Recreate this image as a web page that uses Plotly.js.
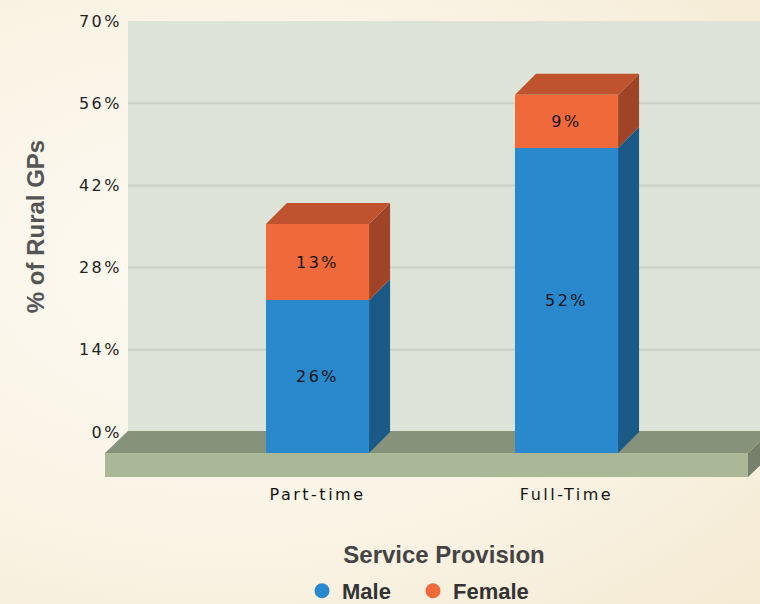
<!DOCTYPE html>
<html>
<head>
<meta charset="utf-8">
<script src="https://cdn.plot.ly/plotly-3.0.1.min.js"></script>
<style>
  html, body { margin: 0; padding: 0; }
  body {
    width: 760px; height: 604px; overflow: hidden;
    background: radial-gradient(ellipse at 30% 45%, #fdfaf2 0%, #faf4e6 55%, #f5ead3 100%);
  }
  #chart { width: 760px; height: 604px; }
  .xtick text, .x2tick text, .ytick text, .bartext { letter-spacing: 2.5px; }
  .legend { translate: 0px 8px; }
  .legend .scrollbox, .legend g { clip-path: none !important; }
</style>
</head>
<body>
<div id="chart"></div>
<script>
// ---- data ----
const categories = ['Part-time', 'Full-Time'];
const maleValues = [26, 52];
const femaleValues = [13, 9];
const seriesNames = ['Male', 'Female'];
const yTickValues = [0, 14, 28, 42, 56, 70];
const yTickLabels = ['0%', '14%', '28%', '42%', '56%', '70%'];

// ---- styling / geometry ----
const W = 760, H = 604;
const M = { l: 128, r: 0, t: 21, b: 127 };
const plotW = W - M.l - M.r, plotH = H - M.t - M.b;
const px2paperX = px => (px - M.l) / plotW;
const px2paperY = py => (H - M.b - py) / plotH;

const colors = {
  male: '#2a88cc', maleSide: '#1b5a87',
  female: '#f0693a', femaleSide: '#9f4427', femaleTop: '#c0532f',
  wall: '#dde3d6', grid: '#cbd0c4',
  floorTop: '#87927a', floorFront: '#aab898', floorSide: '#76806a'
};

const DEPTH = 21;           // 3D depth in px
const yMax = 70;
const xRange = [-0.761, 1.777];
const barWidth = 0.414;
const backZero = 432, backTop = 21;   // back wall: y px of 0% and 70%
const frontZero = 453;                  // front plane 0%
const frontTop = frontZero - (backZero - backTop);

const xs = categories.map((c, i) => i);
const pxPerX = plotW / (xRange[1] - xRange[0]);
const pxPerY = (backZero - backTop) / yMax;
const dx = DEPTH / pxPerX, dy = DEPTH / pxPerY;

const textFont = { family: 'DejaVu Sans', size: 16, color: '#151515' };

const traces = [
  {
    type: 'bar', x: xs, y: maleValues, name: seriesNames[0],
    xaxis: 'x2', yaxis: 'y2', width: barWidth,
    marker: { color: colors.male, line: { width: 0 } },
    text: maleValues.map(v => v + '%'), textposition: 'inside',
    insidetextanchor: 'middle', textangle: 0, textfont: textFont,
    constraintext: 'none', showlegend: false, hoverinfo: 'skip'
  },
  {
    type: 'bar', x: xs, y: femaleValues, name: seriesNames[1],
    xaxis: 'x2', yaxis: 'y2', width: barWidth,
    marker: { color: colors.female, line: { width: 0 } },
    text: femaleValues.map(v => v + '%'), textposition: 'inside',
    insidetextanchor: 'middle', textangle: 0, textfont: textFont,
    constraintext: 'none', showlegend: false, hoverinfo: 'skip'
  },
  // legend entries (circle markers)
  { type: 'scatter', mode: 'markers', x: [null], y: [null], name: seriesNames[0],
    xaxis: 'x', yaxis: 'y', marker: { color: colors.male, size: 15 } },
  { type: 'scatter', mode: 'markers', x: [null], y: [null], name: seriesNames[1],
    xaxis: 'x', yaxis: 'y', marker: { color: colors.female, size: 15 } }
];

const shapes = [];
// back wall
shapes.push({ type: 'rect', xref: 'paper', yref: 'paper', layer: 'below',
  x0: px2paperX(128), x1: px2paperX(775), y0: px2paperY(backZero), y1: px2paperY(backTop),
  fillcolor: colors.wall, line: { width: 0 } });
// gridlines on back wall
yTickValues.filter(v => v > 0 && v < yMax).forEach(v => {
  shapes.push({ type: 'line', xref: 'paper', yref: 'y', layer: 'below',
    x0: 0, x1: px2paperX(775), y0: v, y1: v, line: { color: colors.grid, width: 2 } });
});
// floor
const fl = 105, fr = 748, fTop = 431, fFront = 453, fBot = 477;
const pth = pts => 'M' + pts.map(p => px2paperX(p[0]) + ',' + px2paperY(p[1])).join(' L') + ' Z';
shapes.push({ type: 'path', xref: 'paper', yref: 'paper', layer: 'below',
  path: pth([[fl, fFront], [fl + DEPTH + 2, fTop], [fr + DEPTH + 2, fTop], [fr, fFront]]),
  fillcolor: colors.floorTop, line: { width: 0 } });
shapes.push({ type: 'path', xref: 'paper', yref: 'paper', layer: 'below',
  path: pth([[fl, fFront], [fr, fFront], [fr, fBot], [fl, fBot]]),
  fillcolor: colors.floorFront, line: { width: 0 } });
shapes.push({ type: 'path', xref: 'paper', yref: 'paper', layer: 'below',
  path: pth([[fr, fFront], [fr + DEPTH + 2, fTop], [fr + DEPTH + 2, fTop + 24], [fr, fBot]]),
  fillcolor: colors.floorSide, line: { width: 0 } });

// 3D faces of bars (through x2 / y2 scales)
const poly = pts => 'M' + pts.map(p => p[0] + ',' + p[1]).join(' L') + ' Z';
xs.forEach((x, i) => {
  const x0 = x - barWidth / 2, x1 = x + barWidth / 2;
  const m = maleValues[i], t = maleValues[i] + femaleValues[i];
  shapes.push({ type: 'path', xref: 'x2', yref: 'y2', layer: 'above',
    path: poly([[x1, 0], [x1 + dx, dy], [x1 + dx, m + dy], [x1, m]]),
    fillcolor: colors.maleSide, line: { width: 0 } });
  shapes.push({ type: 'path', xref: 'x2', yref: 'y2', layer: 'above',
    path: poly([[x1, m], [x1 + dx, m + dy], [x1 + dx, t + dy], [x1, t]]),
    fillcolor: colors.femaleSide, line: { width: 0 } });
  shapes.push({ type: 'path', xref: 'x2', yref: 'y2', layer: 'above',
    path: poly([[x0, t], [x0 + dx, t + dy], [x1 + dx, t + dy], [x1, t]]),
    fillcolor: colors.femaleTop, line: { width: 0 } });
});

const layout = {
  width: W, height: H,
  margin: M,
  paper_bgcolor: 'rgba(0,0,0,0)', plot_bgcolor: 'rgba(0,0,0,0)',
  barmode: 'stack',
  showlegend: true,
  legend: { orientation: 'h', traceorder: 'normal',
    x: px2paperX(302), xanchor: 'left', y: px2paperY(604), yanchor: 'bottom',
    entrywidth: 66, entrywidthmode: 'pixels',
    font: { family: 'Liberation Sans', size: 22, weight: 'bold', color: '#333' },
    bgcolor: 'rgba(0,0,0,0)', itemclick: false, itemdoubleclick: false },
  xaxis: { domain: [0, 1], range: xRange, visible: false, fixedrange: true },
  yaxis: {
    domain: [px2paperY(backZero), px2paperY(backTop)], range: [0, yMax],
    tickvals: yTickValues, ticktext: yTickLabels,
    showgrid: false, zeroline: false, showline: false, ticks: '',
    ticklabelstandoff: 5,
    tickfont: { family: 'DejaVu Sans', size: 16, color: '#222' },
    title: { text: '% of Rural GPs', standoff: 27,
      font: { family: 'Liberation Sans', size: 24, weight: 'bold', color: '#555' } },
    fixedrange: true
  },
  xaxis2: {
    domain: [0, 1], range: xRange, anchor: 'free', position: 0,
    tickvals: xs, ticktext: categories,
    showgrid: false, zeroline: false, showline: false, ticks: '',
    ticklabelstandoff: 6,
    tickfont: { family: 'DejaVu Sans', size: 16, color: '#151515' },
    title: { text: 'Service Provision', standoff: 43,
      font: { family: 'Liberation Sans', size: 24, weight: 'bold', color: '#444' } },
    fixedrange: true
  },
  yaxis2: {
    domain: [px2paperY(frontZero), px2paperY(frontTop)], range: [0, yMax],
    anchor: 'x2', visible: false, fixedrange: true
  },
  shapes: shapes
};

Plotly.newPlot('chart', traces, layout, { displayModeBar: false, staticPlot: true });
</script>
</body>
</html>
